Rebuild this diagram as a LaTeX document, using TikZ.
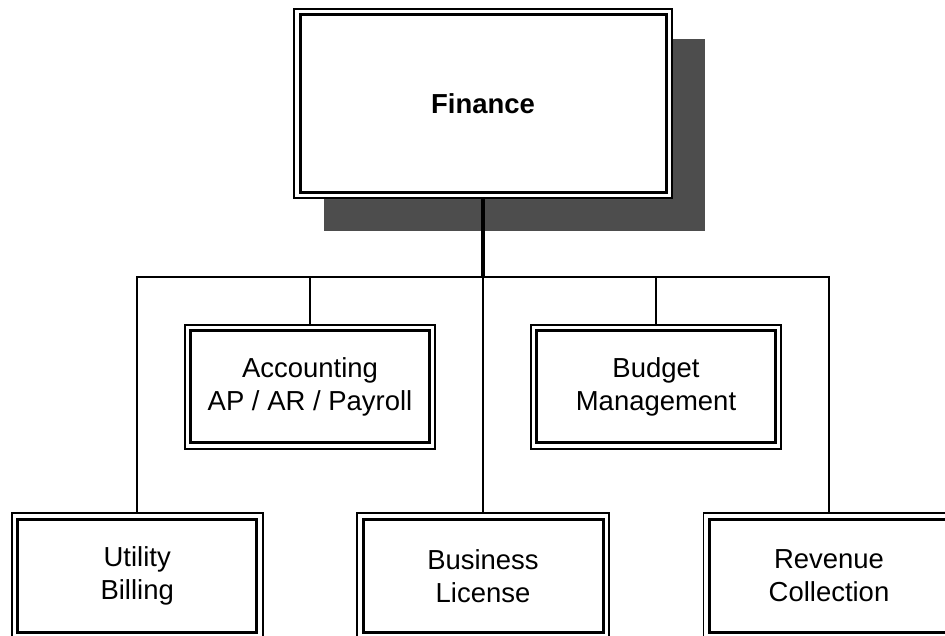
\documentclass[tikz,border=0pt]{standalone}
\usepackage{fontspec}
\setmainfont{Liberation Sans}
\begin{document}
\begin{tikzpicture}[x=0.75pt,y=-0.75pt,
  outerbox/.style={draw=black, fill=white, line width=1.35pt, inner sep=0pt,
    minimum width=#1+12*0.75pt},
  innerbox/.style={draw=black, fill=white, line width=2.25pt, inner sep=0pt,
    align=center, font=\fontsize{20.6}{24.5}\selectfont},
  thinline/.style={line width=1.2pt},
  midline/.style={line width=1.8pt},
  trunkline/.style={line width=2.8pt},
  shadowbox/.style={fill=shadowgray, draw=none}
]
\definecolor{shadowgray}{RGB}{77,77,77}
\useasboundingbox (0,0) rectangle (945,635);
\clip (0,0) rectangle (945,635);
\fill[white] (0,0) rectangle (945,635);

% shadow of the top box
\fill[shadowgray] (324,39) rectangle (705,231);

% Finance
\node[draw=black, fill=white, line width=1.35pt, inner sep=0pt,
      minimum width=378*0.75pt, minimum height=189*0.75pt] (finO) at (483,103.5) {};
\node[innerbox, minimum width=366*0.75pt, minimum height=177*0.75pt,
      font=\fontsize{20.6}{24.5}\selectfont\bfseries] (fin) at (483,103.5) {Finance};

% second row
\node[draw=black, fill=white, line width=1.35pt, inner sep=0pt,
      minimum width=250.6*0.75pt, minimum height=124.3*0.75pt] (accO) at (310,386.8) {};
\node[innerbox, minimum width=238.6*0.75pt, minimum height=112.3*0.75pt] (acc) at (310,386.8) {Accounting\\AP / AR / Payroll};

\node[draw=black, fill=white, line width=1.35pt, inner sep=0pt,
      minimum width=250.6*0.75pt, minimum height=124.3*0.75pt] (budO) at (656,386.8) {};
\node[innerbox, minimum width=238.6*0.75pt, minimum height=112.3*0.75pt] (bud) at (656,386.8) {Budget\\Management};

% bottom row
\node[draw=black, fill=white, line width=1.35pt, inner sep=0pt,
      minimum width=251*0.75pt, minimum height=125.4*0.75pt] (utilO) at (137.2,576) {};
\node[innerbox, minimum width=239*0.75pt, minimum height=113.4*0.75pt] (util) at (137.2,576) {Utility\\Billing};

\node[draw=black, fill=white, line width=1.35pt, inner sep=0pt,
      minimum width=252*0.75pt, minimum height=125.4*0.75pt] (busO) at (483,576) {};
\node[innerbox, minimum width=240*0.75pt, minimum height=113.4*0.75pt] (bus) at (483,576) {Business\\License};

\node[draw=black, fill=white, line width=1.35pt, inner sep=0pt,
      minimum width=251*0.75pt, minimum height=125.4*0.75pt] (revO) at (829,576) {};
\node[innerbox, minimum width=239*0.75pt, minimum height=113.4*0.75pt] (rev) at (829,576) {Revenue\\Collection};

% connectors
\coordinate (j) at (483,277);
\draw[thinline] (j) -| (utilO.north);
\draw[thinline] (j) -| (revO.north);
\draw[thinline] (j) -- (busO.north);
\draw[midline] (j) -| (accO.north);
\draw[midline] (j) -| (budO.north);
\draw[trunkline] (finO.south) -- (j);
\end{tikzpicture}
\end{document}
